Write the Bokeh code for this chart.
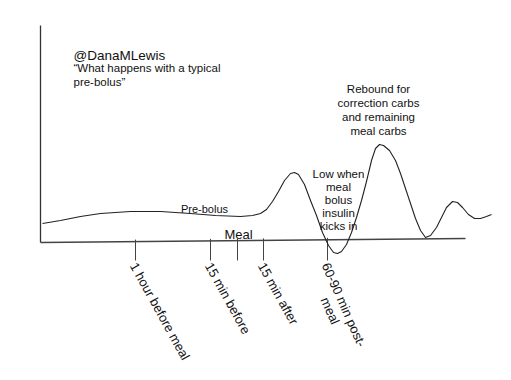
import math
from bokeh.plotting import figure
from bokeh.models import Range1d
from bokeh.embed import file_html
from bokeh.resources import INLINE
from bokeh.core.properties import value

# ---- data (sketch units: x = time position, y = glucose level) ----
curve_x = [42, 60, 80, 100, 130, 160, 190, 215, 240, 252, 260, 266, 272, 278, 284, 290, 294, 298,
           304, 310, 316, 322, 328, 333, 337, 341, 346, 351, 356, 361, 366, 371, 375, 379, 383,
           389, 395, 400, 405, 410, 415, 420, 425, 430, 436, 441, 446, 452, 457, 462, 468, 474,
           480, 486, 491]
curve_y = [157, 160, 164, 167, 169, 169, 167, 165, 164, 165, 167, 171, 179, 189, 200, 207, 208, 206,
           196, 180, 165, 148, 135, 128, 127, 129, 136, 148, 163, 180, 199, 220, 232, 236, 235,
           230, 220, 207, 192, 177, 162, 150, 143, 145, 153, 163, 173, 179, 178, 173, 166, 162,
           162, 164, 166]

tick_x = [135, 210, 237, 263, 327]
tick_labels = ["1 hour before meal", "15 min before", "", "15 min after", "60-90 min post-"]
tick_label2 = ["", "", "", "", "meal"]
tick_angles = [-61, -61, -61, -61, -66]

axis_x = [40, 465]
axis_y = [138, 142]
yaxis_top = 355

title_lines = ["@DanaMLewis", "\u201cWhat happens with a typical", "pre-bolus\u201d"]
rebound_lines = ["Rebound for", "correction carbs", "and remaining", "meal carbs"]
low_lines = ["Low when", "meal", "bolus", "insulin", "kicks in"]

FONT = value("Liberation Sans")
INK = "#111111"

p = figure(width=495, height=364, output_backend="svg", toolbar_location=None,
           x_range=Range1d(0, 495), y_range=Range1d(16, 380),
           min_border=0, outline_line_color=None)
p.axis.visible = False
p.grid.visible = False
p.background_fill_color = "white"
p.border_fill_color = "white"

# axes lines
p.line([axis_x[0], axis_x[0]], [axis_y[0], yaxis_top], line_color="#333333", line_width=1.3)
p.line(axis_x, axis_y, line_color="#444444", line_width=1.6)

# ticks
def axis_level(x):
    return axis_y[0] + (axis_y[1] - axis_y[0]) * (x - axis_x[0]) / (axis_x[1] - axis_x[0])

tick_top = [axis_level(x) + 2 for x in tick_x]
tick_bot = [120] * len(tick_x)
p.segment(x0=tick_x, y0=tick_top, x1=tick_x, y1=tick_bot, line_color="#444444", line_width=1)

# tick labels (rotated)
for x, lab, lab2, ang in zip(tick_x, tick_labels, tick_label2, tick_angles):
    if lab:
        p.text(x=[x - 2], y=[117], text=[lab], angle=ang, angle_units="deg",
               text_font=FONT, text_font_size="13px", text_color=INK,
               text_align="left", text_baseline="middle")
    if lab2:
        a = math.radians(-ang)
        # next line: shifted perpendicular to the text direction, then along it
        dx_perp, dy_perp = -math.sin(a) * 15, -math.cos(a) * 15
        along = 31
        p.text(x=[x - 2 + dx_perp + along * math.cos(a)],
               y=[117 + dy_perp - along * math.sin(a)],
               text=[lab2], angle=ang, angle_units="deg",
               text_font=FONT, text_font_size="13px", text_color=INK,
               text_align="left", text_baseline="middle")

# curve
p.line(curve_x, curve_y, line_color="#222222", line_width=1.1, line_join="round")

# title
p.text(x=[73], y=[380 - 55], text=[title_lines[0]], text_font=FONT, text_font_size="13.5px",
       text_color=INK, text_align="left", text_baseline="alphabetic")
p.text(x=[73, 73], y=[380 - 67, 380 - 81], text=title_lines[1:], text_font=FONT,
       text_font_size="11.5px", text_color=INK, text_align="left", text_baseline="alphabetic")

# rebound note
p.text(x=[378] * 4, y=[380 - 88 - 14 * i for i in range(4)], text=rebound_lines, text_font=FONT,
       text_font_size="11.5px", text_color=INK, text_align="center", text_baseline="alphabetic")

# low note
p.text(x=[338] * 5, y=[380 - 173 - 13 * i for i in range(5)], text=low_lines, text_font=FONT,
       text_font_size="11.5px", text_color=INK, text_align="center", text_baseline="alphabetic")

# pre-bolus and meal labels
p.text(x=[204], y=[380 - 208], text=["Pre-bolus"], text_font=FONT, text_font_size="11px",
       text_color=INK, text_align="center", text_baseline="alphabetic")
p.text(x=[238], y=[380 - 234], text=["Meal"], text_font=FONT, text_font_size="13px",
       text_color=INK, text_align="center", text_baseline="alphabetic")

open("out.html", "w").write(file_html(p, INLINE))
